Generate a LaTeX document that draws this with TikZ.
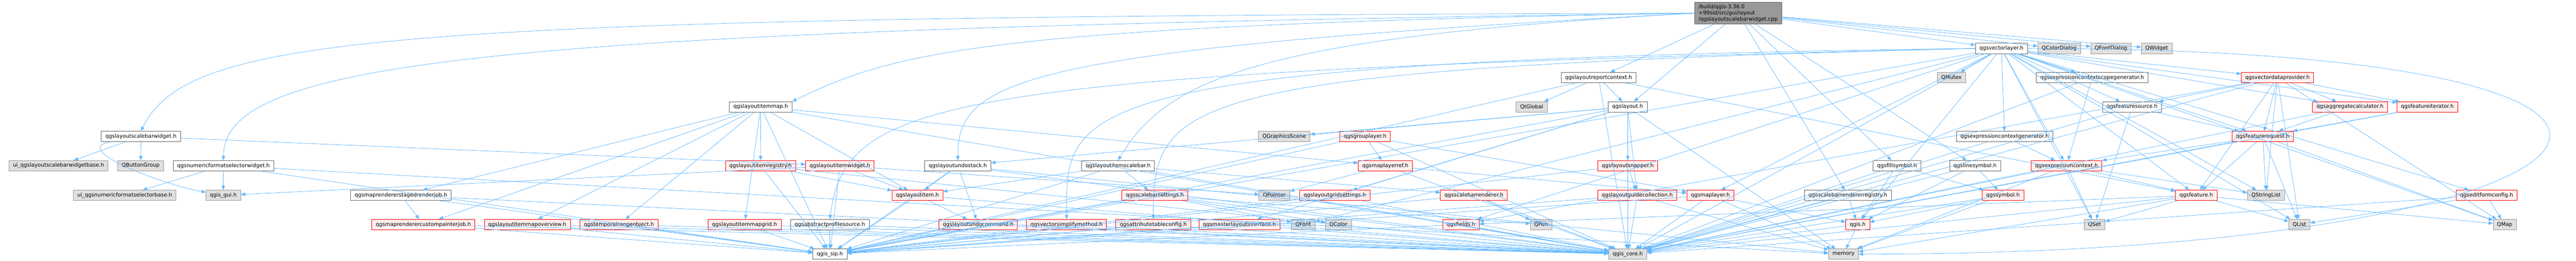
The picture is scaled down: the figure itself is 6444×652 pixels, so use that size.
\documentclass[tikz,border=0pt]{standalone}
\usepackage{fontspec}
\setmainfont{DejaVu Sans}
\usepackage{tikz}
\usetikzlibrary{arrows.meta}
\definecolor{edgeblue}{HTML}{63B8FF}
\definecolor{trcfill}{HTML}{FFF0F0}
\definecolor{extfill}{HTML}{E0E0E0}
\tikzstyle{fbox}=[draw=black!60, fill=white, rectangle, line width=0.8pt, inner xsep=7.5pt, inner ysep=0pt, minimum height=19.5pt, font=\fontsize{9.9}{11.5}\selectfont]
\tikzstyle{hdr}=[fbox]
\tikzstyle{trc}=[fbox, draw=red, fill=trcfill]
\tikzstyle{ext}=[fbox, draw=black!40, fill=extfill]
\tikzstyle{src}=[fbox, fill=black!40, align=left, minimum height=41pt]
\tikzstyle{dep}=[->, color=edgeblue, line width=0.75pt]

\begin{document}
\begin{tikzpicture}[x=0.75pt, y=-0.75pt, >={Triangle[length=8pt,width=6.5pt]}]
    \useasboundingbox (0,0) rectangle (6444,652);

    \node [src] (m)    at (4348,33)   {/build/qgis-3.36.0\\+99sid/src/gui/layout\\/qgslayoutscalebarwidget.cpp};
    % row 1
    \node [hdr] (vl)   at (5006.5,121) {qgsvectorlayer.h};
    \node [ext] (qcd)  at (5151,121)   {QColorDialog};
    \node [ext] (qfd)  at (5280.5,121) {QFontDialog};
    \node [ext] (qw)   at (5395,121)   {QWidget};
    % row 2
    \node [hdr] (lrc)  at (3999,194)   {qgslayoutreportcontext.h};
    \node [ext] (qmx)  at (4881.5,194) {QMutex};
    \node [hdr] (ecsg) at (5233.5,194) {qgsexpressioncontextscopegenerator.h};
    \node [trc] (vdp)  at (5697,194)   {qgsvectordataprovider.h};
    % row 3
    \node [hdr] (lim)  at (1903,267)   {qgslayoutitemmap.h};
    \node [ext] (qtg)  at (3831.5,267) {QtGlobal};
    \node [hdr] (lay)  at (4071.5,267) {qgslayout.h};
    \node [hdr] (fs)   at (5333.5,267) {qgsfeaturesource.h};
    \node [trc] (agg)  at (5878.5,267) {qgsaggregatecalculator.h};
    \node [trc] (fi)   at (6072,267)   {qgsfeatureiterator.h};
    % row 4
    \node [hdr] (sbw)  at (352.5,341)  {qgslayoutscalebarwidget.h};
    \node [ext] (qgs)  at (3212.5,341) {QGraphicsScene};
    \node [trc] (grl)  at (3415,341)   {qgsgrouplayer.h};
    \node [hdr] (ecg)  at (5014.5,341) {qgsexpressioncontextgenerator.h};
    \node [trc] (fr)   at (5660.5,341) {qgsfeaturerequest.h};
    % row 5
    \node [ext] (uisb) at (146.5,414)  {ui\_qgslayoutscalebarwidgetbase.h};
    \node [ext] (qbg)  at (352,414)    {QButtonGroup};
    \node [hdr] (nfs)  at (559,414)    {qgsnumericformatselectorwidget.h};
    \node [trc] (lir)  at (1902.5,414) {qgslayoutitemregistry.h};
    \node [trc] (liw)  at (2101,414)   {qgslayoutitemwidget.h};
    \node [hdr] (lus)  at (2396,414)   {qgslayoutundostack.h};
    \node [hdr] (lisb) at (2797,414)   {qgslayoutitemscalebar.h};
    \node [trc] (mlr)  at (3465.5,414) {qgsmaplayerref.h};
    \node [trc] (lsn)  at (4072,414)   {qgslayoutsnapper.h};
    \node [hdr] (fill) at (4745.5,414) {qgsfillsymbol.h};
    \node [hdr] (line) at (4940.5,414) {qgslinesymbol.h};
    \node [trc] (ec)   at (5169.5,414) {qgsexpressioncontext.h};
    % row 6
    \node [ext] (uinf) at (312,488)    {ui\_qgsnumericformatselectorbase.h};
    \node [ext] (gui)  at (558.5,488)  {qgis\_gui.h};
    \node [hdr] (srj)  at (1003,488)   {qgsmaprendererstagedrenderjob.h};
    \node [trc] (litem) at (2295,488)  {qgslayoutitem.h};
    \node [trc] (sbs)  at (2889,488)   {qgsscalebarsettings.h};
    \node [ext] (qptr) at (3188,488)   {QPointer};
    \node [trc] (lgs)  at (3339,488)   {qgslayoutgridsettings.h};
    \node [trc] (sbr)  at (3687,488)   {qgsscalebarrenderer.h};
    \node [trc] (lgc)  at (4095.5,488) {qgslayoutguidecollection.h};
    \node [trc] (ml)   at (4278.5,488) {qgsmaplayer.h};
    \node [hdr] (sbrr) at (4622.5,488) {qgsscalebarrendererregistry.h};
    \node [trc] (sym)  at (5010.5,488) {qgssymbol.h};
    \node [trc] (feat) at (5494,488)   {qgsfeature.h};
    \node [ext] (qsl)  at (5668.5,488) {QStringList};
    \node [trc] (efc)  at (6220,488)   {qgseditformconfig.h};
    % row 7
    \node [trc] (cpj)  at (1059,561)   {qgsmaprenderercustompainterjob.h};
    \node [trc] (limo) at (1319,561)   {qgslayoutitemmapoverview.h};
    \node [trc] (tro)  at (1548.5,561) {qgstemporalrangeobject.h};
    \node [trc] (limg) at (1862.5,561) {qgslayoutitemmapgrid.h};
    \node [hdr] (aps)  at (2076,561)   {qgsabstractprofilesource.h};
    \node [trc] (luc)  at (2447,561)   {qgslayoutundocommand.h};
    \node [trc] (vsm)  at (2668,561)   {qgsvectorsimplifymethod.h};
    \node [trc] (atc)  at (2885,561)   {qgsattributetableconfig.h};
    \node [trc] (mli)  at (3100.5,561) {qgsmasterlayoutinterface.h};
    \node [ext] (qft)  at (3260,561)   {QFont};
    \node [ext] (qcl)  at (3348,561)   {QColor};
    \node [trc] (fld)  at (3654.5,561) {qgsfields.h};
    \node [ext] (qpn)  at (3855,561)   {QPen};
    \node [trc] (qgis) at (4647,561)   {qgis.h};
    \node [ext] (qst)  at (5239.5,561) {QSet};
    \node [ext] (qls)  at (5752,561)   {QList};
    \node [ext] (qmp)  at (6265.5,561) {QMap};
    % row 8
    \node [hdr] (sip)  at (2076,635)   {qgis\_sip.h};
    \node [ext] (core) at (4072,635)   {qgis\_core.h};
    \node [ext] (mem)  at (4611.5,635) {memory};

    % long ones round the top and the right
    \draw [dep] (m.west) .. controls +(-3300,8) and +(120,-240) .. (sbw.north);
    \draw [dep] (m.west) .. controls +(-3000,40) and +(0,-250) .. (nfs.north);
    \draw [dep] (m.west) .. controls +(-1800,30) and +(250,-120) .. (lim.north east);
    \draw [dep] (m.west) .. controls +(-1700,90) and +(0,-200) .. (lus.north);
    \draw [dep] (m.west) .. controls +(-1100,60) and +(120,-200) .. (lisb.north);
    \draw [dep] (vl.west) .. controls +(-2300,30) and +(0,-280) .. (vsm.north);
    \draw [dep] (vl.west) .. controls +(-2000,50) and +(0,-300) .. (atc.north);
    \draw [dep] (vl.west) .. controls +(-2600,60) and +(40,-300) .. (aps.north);
    \draw [dep] (vl.east) .. controls +(2000,0) and +(2000,0) .. (mem.east);

    \path [dep] (m) edge (lrc) edge (lay) edge (sbrr) edge (fill) edge (line)
                    edge (vl) edge (qcd) edge (qfd) edge (qw);
    \path [dep] (sbw) edge (uisb) edge (qbg) edge [out=190, in=170] (gui) edge (liw);
    \path [dep] (nfs) edge (uinf) edge (gui) edge (sip) edge (mem);
    \path [dep] (lim) edge (lir) edge (litem) edge (limg) edge (limo) edge (cpj)
                      edge (srj) edge (tro) edge (mlr) edge (core) edge (sip);
    \path [dep] (lir) edge (litem) edge (core) edge (sip);
    \path [dep] (liw) edge (litem) edge (gui) edge (sip) edge (qptr);
    \path [dep] (lus) edge (luc) edge (litem) edge (core) edge (sip) edge (mem);
    \path [dep] (lisb) edge (litem) edge (sbs) edge (sbr) edge (core) edge (sip);
    \path [dep] (litem) edge (luc) edge (core) edge (sip);
    \path [dep] (srj) edge (cpj) edge (core) edge (sip);
    \foreach \n in {cpj,limo,tro,limg,aps,luc,vsm,atc,mli,fld,lgs}
      \path [dep] (\n) edge (core) edge (sip);
    \path [dep] (lrc) edge (lay) edge (qtg) edge (feat) edge (core) edge (sip);
    \path [dep] (lay) edge (lsn) edge (lgc) edge (qgs) edge (lgs) edge (lus)
                      edge (mli) edge (core) edge (sip) edge (mem);
    \path [dep] (grl) edge (mlr) edge (ml) edge (core) edge (sip);
    \path [dep] (mlr) edge (qptr) edge (ml) edge (core);
    \path [dep] (lsn) edge (lgc) edge (core) edge (sip);
    \path [dep] (lgc) edge (core) edge (sip) edge (mem);
    \path [dep] (ml) edge (qgis) edge (core) edge (sip) edge (mem);
    \path [dep] (sbr) edge (qpn) edge (core) edge (sip);
    \path [dep] (sbs) edge (qpn) edge (qcl) edge (qft) edge (core) edge (sip);
    \path [dep] (sbrr) edge (qgis) edge (core);
    \path [dep] (fill) edge (sym) edge (qgis) edge (core);
    \path [dep] (line) edge (sym) edge (qgis) edge (core);
    \path [dep] (sym) edge (qgis) edge (core) edge (mem);
    \path [dep] (qgis) edge (mem) edge (core);
    \path [dep] (vl) edge (qmx) edge (ecsg) edge (ecg) edge (ec) edge (feat) edge (fs)
                     edge (vdp) edge (agg) edge (fi) edge (efc) edge (qmp) edge (qls)
                     edge (qst) edge (qsl) edge (fr) edge (ml) edge (fld)
                     edge (qft) edge (qgis) edge (core) edge (sip);
    \path [dep] (ecsg) edge (ec) edge (core);
    \path [dep] (ecg) edge (ec) edge (core);
    \path [dep] (ec) edge (feat) edge (qst) edge (qsl) edge (core) edge (mem);
    \path [dep] (vdp) edge (fs) edge (fr) edge (agg) edge (fi) edge (qls) edge (qmp)
                      edge (qsl) edge (feat) edge (fld) edge (core);
    \path [dep] (fs) edge (fr) edge (core) edge (qst);
    \path [dep] (agg) edge (fr) edge (core);
    \path [dep] (fi) edge (fr) edge (core);
    \path [dep] (fr) edge (feat) edge (ec) edge (qls) edge (qsl) edge (qmp) edge (core);
    \path [dep] (feat) edge (qst) edge (qls) edge (qmp) edge (fld) edge (core) edge (mem);
    \path [dep] (efc) edge (qmp) edge (qls) edge (core);

\end{tikzpicture}
\end{document}
